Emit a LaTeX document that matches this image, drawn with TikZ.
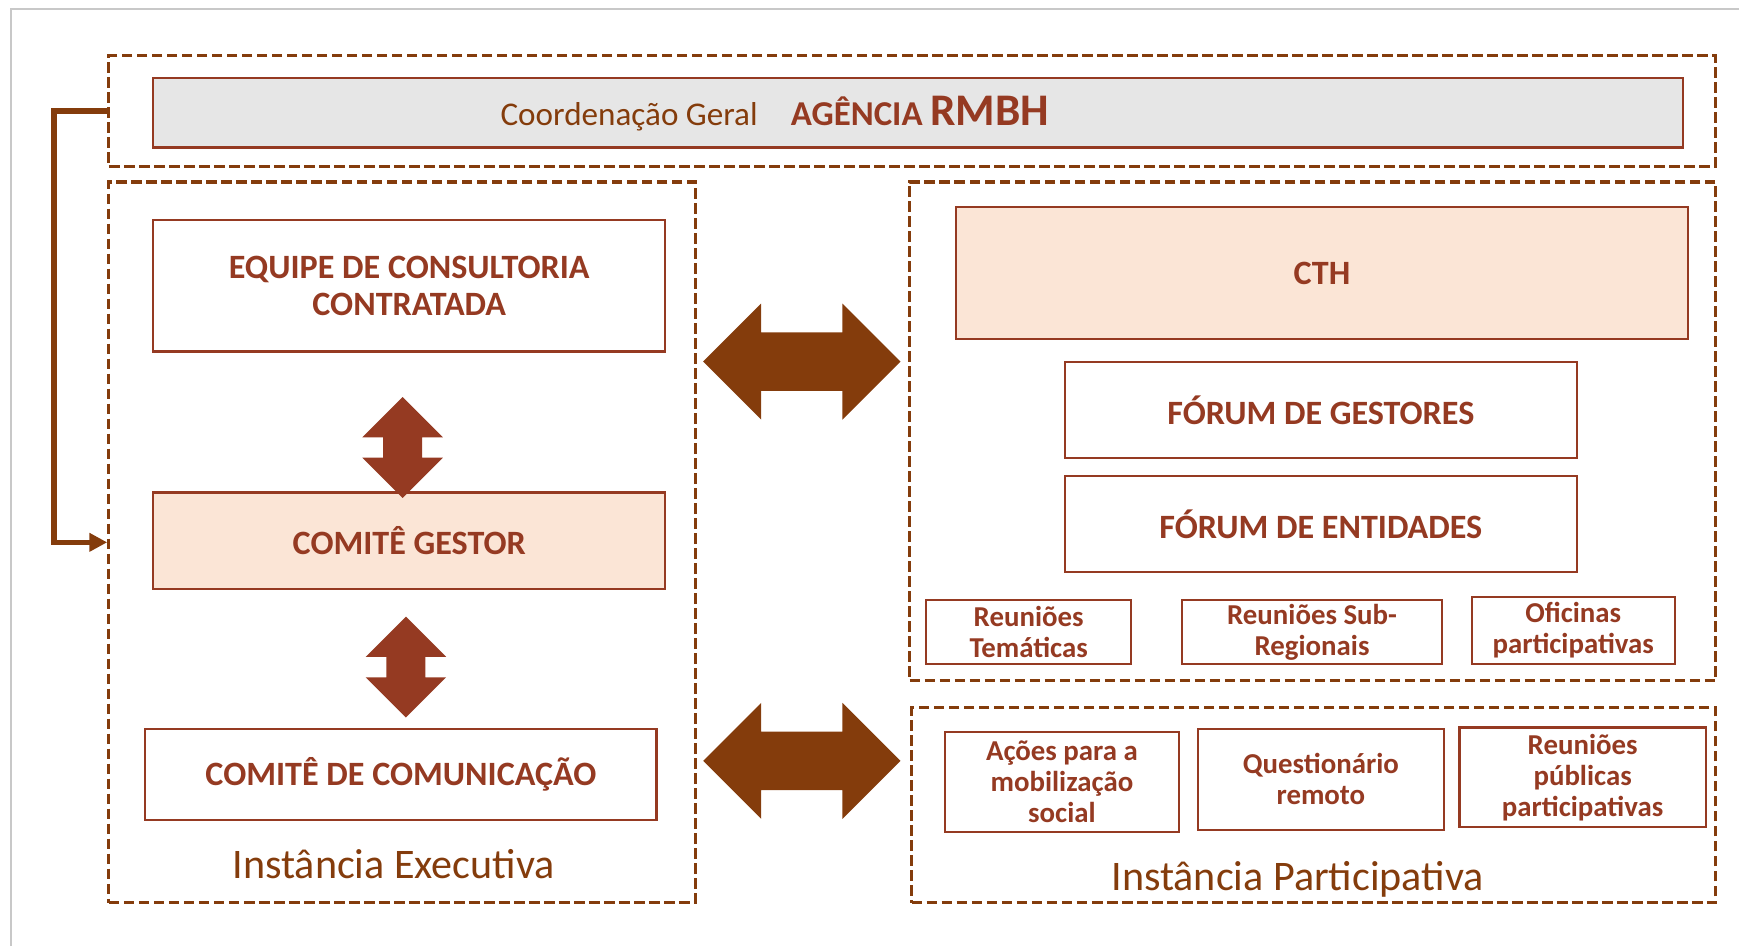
\documentclass[tikz,border=0pt]{standalone}
\usepackage{fontspec}
\setmainfont{Carlito}
\usetikzlibrary{shapes.arrows,arrows.meta}
\definecolor{darkbrown}{HTML}{843C0C}
\definecolor{rust}{HTML}{953A22}
\definecolor{peach}{HTML}{FBE5D6}
\definecolor{paleg}{HTML}{E6E6E6}
\definecolor{framegray}{HTML}{C8C8C8}
\tikzset{
	zone/.style={draw=darkbrown, line width=1.6pt, dash pattern=on 5.5pt off 2.2pt, inner sep=0pt},
	box/.style={draw=rust, line width=1.1pt, fill=white, text=rust, align=center, inner sep=0pt,
		font=\bfseries\fontsize{17.5}{19}\selectfont},
	smallbox/.style={box, font=\bfseries\fontsize{14.8}{16}\selectfont},
	tag/.style={text=darkbrown, font=\fontsize{21.6}{24}\selectfont},
	lrarrow/.style={double arrow, fill=darkbrown, inner xsep=0pt, inner ysep=0.52cm,
		double arrow head extend=0.52cm, minimum height=3.56cm},
	udarrow/.style={double arrow, fill=rust, inner xsep=0pt, inner ysep=0.345cm,
		double arrow head extend=0.375cm, minimum height=1.82cm, rotate=90},
}

\begin{document}
\begin{tikzpicture}[x=0.02cm,y=-0.02cm]
					\useasboundingbox (0,0) rectangle (1568,853);
					%FRAME
					\draw[framegray, line width=0.04cm] (10,853) -- (10,8) -- (1568,8);
					%ZONES
					\node[zone, minimum width=28.98cm, minimum height=2cm] (topzone) at (822.5,100) {};
					\node[zone, minimum width=10.58cm, minimum height=13cm] (exec) at (362.5,489) {};
					\node[zone, minimum width=14.54cm, minimum height=9cm] (part) at (1183.5,389) {};
					\node[zone, minimum width=14.5cm, minimum height=3.52cm] (outreach) at (1184.5,726) {};
					%TOP
					\node[box, fill=paleg, minimum width=27.6cm, minimum height=1.26cm] (coord) at (828,101.5) {};
					\node[anchor=base west, inner sep=0pt, text=darkbrown, font=\fontsize{17}{18}\selectfont] (title) at (451,113)
						{Coordenação Geral\hspace{1em}\textcolor{rust}{\bfseries\fontsize{17.9}{18}\selectfont AGÊNCIA {\fontsize{23.2}{24}\selectfont RMBH}}};
					%EXECUTIVA
					\node[box, minimum width=9.24cm, minimum height=2.38cm] (equipe) at (369,257.5) {EQUIPE DE CONSULTORIA\\CONTRATADA};
					\node[box, fill=peach, minimum width=9.24cm, minimum height=1.74cm] (gestor) at (369,487.5) {COMITÊ GESTOR};
					\node[box, minimum width=9.22cm, minimum height=1.64cm] (comunic) at (361.5,698) {COMITÊ DE COMUNICAÇÃO};
					\node[tag] (execlabel) at (355,779) {Instância Executiva};
					%PARTICIPATIVA
					\node[box, fill=peach, minimum width=13.2cm, minimum height=2.38cm] (cth) at (1192,246.5) {CTH};
					\node[box, minimum width=9.24cm, minimum height=1.74cm] (fgestores) at (1191,369.5) {FÓRUM DE GESTORES};
					\node[box, minimum width=9.24cm, minimum height=1.74cm] (fentidades) at (1191,472.5) {FÓRUM DE ENTIDADES};
					\node[smallbox, minimum width=3.7cm, minimum height=1.16cm] (tematicas) at (927.5,570) {Reuniões\\Temáticas};
					\node[smallbox, minimum width=4.68cm, minimum height=1.16cm] (subreg) at (1183,570) {Reuniões Sub-\\Regionais};
					\node[smallbox, minimum width=3.66cm, minimum height=1.22cm] (oficinas) at (1418.5,568.5) {Oficinas\\participativas};
					\node[smallbox, minimum width=4.22cm, minimum height=1.8cm] (acoes) at (957.5,705) {Ações para a\\mobilização\\social};
					\node[smallbox, minimum width=4.44cm, minimum height=1.82cm] (quest) at (1191,702.5) {Questionário\\remoto};
					\node[smallbox, minimum width=4.44cm, minimum height=1.8cm] (publicas) at (1427,701) {Reuniões\\públicas\\participativas};
					\node[tag] (partlabel) at (1170,793) {Instância Participativa};
					%ARROWS
					\node[udarrow] (ud1) at (363,403.5) {};
					\node[udarrow] (ud2) at (366,601.5) {};
					\node[lrarrow] (lr1) at (723,326) {};
					\node[lrarrow] (lr2) at (723,686) {};
					\draw[darkbrown, line width=0.1cm, -{Triangle[length=0.32cm,width=0.32cm]}] (topzone.west) -- ++(-48,0) |- (exec.west);
\end{tikzpicture}
\end{document}
